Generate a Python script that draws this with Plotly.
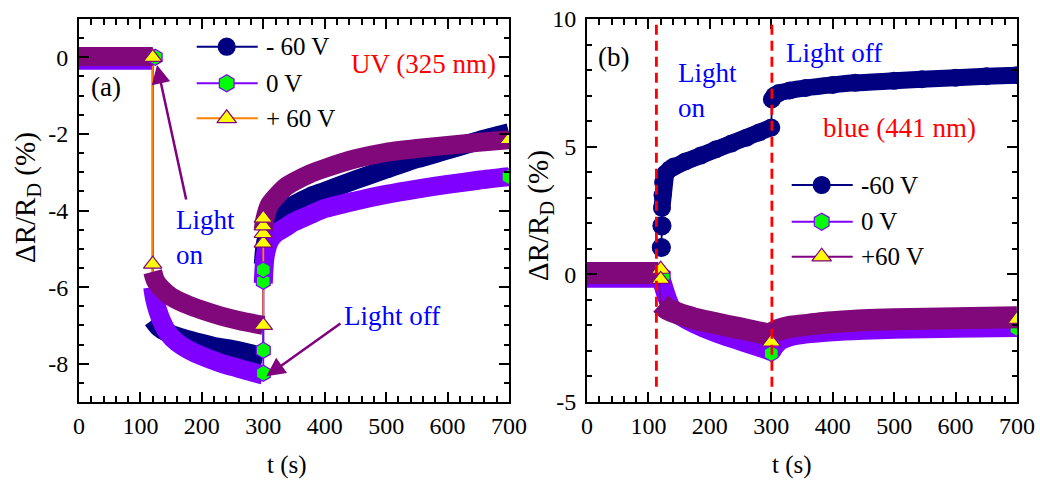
import plotly.graph_objects as go

W, H = 1040, 480
FONT = "Liberation Serif"
NAVY = "#000080"
VIOLET = "#8000FF"
MAROON = "#80087A"
ORANGE = "#FF8000"
PURPLE = "#800080"
GREEN = "#00FF00"
YELLOW = "#FFFF00"

# ---------------- Panel (a): UV (325 nm) ----------------
a_n60_pre_t = [0, 120]
a_n60_pre_v = [0, 0]
a_n60_on_t = [120, 130, 145, 165, 190, 220, 250, 275, 300]
a_n60_on_v = [-6.85, -7.05, -7.2, -7.32, -7.43, -7.55, -7.63, -7.72, -7.82]
a_n60_off_t = [300, 303, 310, 320, 335, 350, 375, 400, 450, 500, 550, 600, 650, 700]
a_n60_off_v = [-5.4, -4.9, -4.5, -4.25, -4.0, -3.85, -3.65, -3.5, -3.2, -2.92, -2.65, -2.42, -2.18, -1.97]

a_0_pre_t = [0, 120]
a_0_pre_v = [-0.08, -0.08]
a_0_on_t = [120, 123, 128, 135, 145, 160, 180, 200, 230, 260, 300]
a_0_on_v = [-6.0, -6.3, -6.6, -6.9, -7.2, -7.45, -7.65, -7.8, -7.98, -8.12, -8.3]
a_0_off_t = [300, 303, 310, 320, 335, 350, 375, 400, 450, 500, 550, 600, 650, 700]
a_0_off_v = [-5.9, -5.2, -4.8, -4.6, -4.45, -4.3, -4.12, -3.95, -3.75, -3.58, -3.44, -3.32, -3.21, -3.12]

a_p60_pre_t = [0, 120]
a_p60_pre_v = [0.02, 0.02]
a_p60_on_t = [120, 125, 135, 150, 175, 200, 230, 260, 300]
a_p60_on_v = [-5.6, -5.85, -6.05, -6.25, -6.45, -6.6, -6.75, -6.87, -7.0]
a_p60_off_t = [300, 303, 310, 320, 335, 350, 375, 400, 450, 500, 550, 600, 650, 700]
a_p60_off_v = [-4.5, -4.2, -3.85, -3.65, -3.4, -3.25, -3.05, -2.9, -2.65, -2.48, -2.38, -2.3, -2.22, -2.15]

a_tri_t = [120, 120, 300, 300, 300, 300, 300, 700]
a_tri_v = [0.0, -5.4, -7.0, -4.85, -4.6, -4.4, -4.2, -2.15]
a_hex_t = [124, 300, 300, 300, 300, 700]
a_hex_v = [0.0, -7.65, -8.25, -5.85, -5.55, -3.12]

a_yticks = [0, -2, -4, -6, -8]
a_yticklabels = ["0", "-2", "-4", "-6", "-8"]

# ---------------- Panel (b): blue (441 nm) ----------------
b_n60_pre_t = [0, 115]
b_n60_pre_v = [0, 0]
b_n60_on_t = [121, 122, 122, 123, 124, 128, 135, 141, 160, 185, 210, 235, 260, 280, 300]
b_n60_on_v = [1.05, 1.9, 2.6, 3.1, 3.6, 3.95, 4.12, 4.22, 4.42, 4.65, 4.9, 5.12, 5.35, 5.55, 5.75]
b_n60_off_t = [301, 305, 312, 330, 356, 400, 437, 500, 545, 600, 650, 700]
b_n60_off_v = [6.85, 7.0, 7.1, 7.2, 7.3, 7.42, 7.5, 7.58, 7.64, 7.7, 7.76, 7.8]

b_0_pre_t = [0, 118]
b_0_pre_v = [-0.15, -0.15]
b_0_on_t = [118, 122, 126, 130, 135, 142, 160, 190, 220, 250, 280, 300]
b_0_on_v = [-0.15, -0.3, -0.6, -0.9, -1.2, -1.45, -1.75, -2.1, -2.38, -2.62, -2.85, -3.02]
b_0_off_t = [300, 305, 315, 330, 350, 400, 450, 500, 600, 700]
b_0_off_v = [-3.05, -2.85, -2.6, -2.45, -2.36, -2.25, -2.19, -2.15, -2.11, -2.08]

b_p60_pre_t = [0, 116]
b_p60_pre_v = [0.05, 0.05]
b_p60_on_t = [120, 130, 150, 175, 200, 230, 260, 300]
b_p60_on_v = [-1.15, -1.35, -1.55, -1.73, -1.87, -2.02, -2.17, -2.38]
b_p60_off_t = [300, 305, 315, 330, 350, 375, 400, 450, 500, 600, 700]
b_p60_off_v = [-2.4, -2.25, -2.15, -2.06, -2.0, -1.93, -1.88, -1.8, -1.76, -1.72, -1.68]

b_tri_t = [120, 120, 300, 700]
b_tri_v = [0.2, -0.2, -2.65, -1.76]
b_hex_t = [124, 300, 700]
b_hex_v = [-0.05, -3.1, -2.12]

b_yticks = [-5, 0, 5, 10]
b_yticklabels = ["-5", "0", "5", "10"]

light_on_t = 113
light_off_t = 301

xticks = [0, 100, 200, 300, 400, 500, 600, 700]
xticklabels = ["0", "100", "200", "300", "400", "500", "600", "700"]

legend_a = ["- 60 V", "0 V", "+ 60 V"]
legend_b = ["-60 V", "0 V", "+60 V"]


def segs(*pairs):
    xs, ys = [], []
    for i, (t, v) in enumerate(pairs):
        if i:
            xs.append(None)
            ys.append(None)
        xs += list(t)
        ys += list(v)
    return xs, ys


def chain(*pairs):
    xs, ys = [], []
    for t, v in pairs:
        xs += list(t)
        ys += list(v)
    return xs, ys


fig = go.Figure()


def band(t, v, color, width, xa, ya, markers=None, msize=0, smooth=True):
    mode = "lines" if markers is None else "lines+markers"
    kw = {}
    if markers is not None:
        kw["marker"] = dict(symbol=markers, size=msize, color=color, line=dict(width=0))
    ln = dict(color=color, width=width)
    if smooth:
        ln.update(shape="spline", smoothing=0.7)
    fig.add_trace(go.Scatter(x=t, y=v, mode=mode, line=ln,
                             xaxis=xa, yaxis=ya, showlegend=False, hoverinfo="skip", **kw))


def thin(t, v, color, xa, ya, width=1.8):
    fig.add_trace(go.Scatter(x=t, y=v, mode="lines", line=dict(color=color, width=width),
                             xaxis=xa, yaxis=ya, showlegend=False, hoverinfo="skip"))


def marks(t, v, symbol, fill, edge, xa, ya, size=16):
    fig.add_trace(go.Scatter(x=t, y=v, mode="markers",
                             marker=dict(symbol=symbol, size=size, color=fill,
                                         line=dict(color=edge, width=1.2)),
                             xaxis=xa, yaxis=ya, showlegend=False, hoverinfo="skip"))


# ---- panel (a) traces ----
BW = 19
thin(*chain((a_n60_pre_t, a_n60_pre_v), (a_n60_on_t, a_n60_on_v), (a_n60_off_t, a_n60_off_v)), NAVY, "x", "y")
band(*segs((a_n60_pre_t, a_n60_pre_v), (a_n60_on_t, a_n60_on_v), (a_n60_off_t, a_n60_off_v)), NAVY, BW, "x", "y")
thin(*chain((a_0_pre_t, a_0_pre_v), (a_0_on_t, a_0_on_v), (a_0_off_t, a_0_off_v)), VIOLET, "x", "y")
band(*segs((a_0_pre_t, a_0_pre_v), (a_0_on_t, a_0_on_v), (a_0_off_t, a_0_off_v)), VIOLET, BW, "x", "y")
thin(*chain((a_p60_pre_t, a_p60_pre_v), (a_p60_on_t, a_p60_on_v), (a_p60_off_t, a_p60_off_v)), ORANGE, "x", "y")
band(*segs((a_p60_pre_t, a_p60_pre_v), (a_p60_on_t, a_p60_on_v), (a_p60_off_t, a_p60_off_v)), MAROON, BW, "x", "y")
marks(a_hex_t, a_hex_v, "hexagon", GREEN, VIOLET, "x", "y")
marks(a_tri_t, a_tri_v, "triangle-up", YELLOW, PURPLE, "x", "y")

# ---- panel (b) traces ----
band(b_n60_pre_t, b_n60_pre_v, NAVY, 17, "x2", "y2")
thin(*chain((b_n60_on_t, b_n60_on_v), (b_n60_off_t, b_n60_off_v)), NAVY, "x2", "y2")
# first few points of the rise are separate circles; the rest form a dense band
marks(b_n60_on_t[:2], b_n60_on_v[:2], "circle", NAVY, NAVY, "x2", "y2", size=18)
band(b_n60_on_t[2:], b_n60_on_v[2:], NAVY, 17, "x2", "y2", markers="circle", msize=18, smooth=False)
band(b_n60_off_t, b_n60_off_v, NAVY, 17, "x2", "y2", markers="circle", msize=18)
thin(*chain((b_0_pre_t, b_0_pre_v), (b_0_on_t, b_0_on_v), (b_0_off_t, b_0_off_v)), VIOLET, "x2", "y2")
band(*segs((b_0_pre_t, b_0_pre_v), (b_0_on_t, b_0_on_v), (b_0_off_t, b_0_off_v)), VIOLET, 19, "x2", "y2")
marks(b_hex_t, b_hex_v, "hexagon", GREEN, VIOLET, "x2", "y2")
thin(*chain((b_p60_pre_t, b_p60_pre_v), (b_p60_on_t, b_p60_on_v), (b_p60_off_t, b_p60_off_v)), PURPLE, "x2", "y2")
band(*segs((b_p60_pre_t, b_p60_pre_v), (b_p60_on_t, b_p60_on_v), (b_p60_off_t, b_p60_off_v)), MAROON, 22, "x2", "y2")
marks(b_tri_t, b_tri_v, "triangle-up", YELLOW, PURPLE, "x2", "y2")

# ---- manual legends on a pixel overlay axis ----
leg_syms = [("circle", NAVY, NAVY), ("hexagon", GREEN, VIOLET), ("triangle-up", YELLOW, PURPLE)]
leg_lines_a = [NAVY, VIOLET, ORANGE]
leg_lines_b = [NAVY, VIOLET, PURPLE]
leg_a_rows = [46.7, 83.3, 118.3]
leg_b_rows = [185.0, 221.7, 256.7]
annotations = []
for rows, x0, lines, labels in [(leg_a_rows, 196.7, leg_lines_a, legend_a),
                                (leg_b_rows, 791.7, leg_lines_b, legend_b)]:
    for row, lc, (sym, fc, ec), lab in zip(rows, lines, leg_syms, labels):
        fig.add_trace(go.Scatter(x=[x0, x0 + 61], y=[row, row], mode="lines",
                                 line=dict(color=lc, width=2), xaxis="x3", yaxis="y3",
                                 showlegend=False, hoverinfo="skip"))
        fig.add_trace(go.Scatter(x=[x0 + 30], y=[row], mode="markers",
                                 marker=dict(symbol=sym, size=17, color=fc, line=dict(color=ec, width=1.2)),
                                 xaxis="x3", yaxis="y3", showlegend=False, hoverinfo="skip"))
        annotations.append(dict(text=lab, x=(x0 + 67) / W, y=1 - row / H, xref="paper", yref="paper",
                                xanchor="left", yanchor="middle", showarrow=False,
                                font=dict(family=FONT, size=25, color="black")))


def px_text(text, x, y, color, size=27, xanchor="left", angle=0):
    annotations.append(dict(text=text, x=x / W, y=1 - y / H, xref="paper", yref="paper",
                            xanchor=xanchor, yanchor="middle", showarrow=False, align="left",
                            textangle=angle, font=dict(family=FONT, size=size, color=color)))


px_text("(a)", 89, 87, "black")
px_text("UV (325 nm)", 349, 63.5, "#FF0000")
px_text("Light<br>on", 174, 237, "#0000FF")
px_text("Light off", 342, 315.5, "#0000FF")
px_text("(b)", 596, 57.5, "black")
px_text("Light<br>on", 676, 90, "#0000FF")
px_text("Light off", 784, 52.5, "#0000FF")
px_text("blue (441 nm)", 821, 127.5, "#FF0000")
px_text("t (s)", 287, 465, "black", size=25, xanchor="center")
px_text("t (s)", 792, 465, "black", size=25, xanchor="center")
px_text("ΔR/R<sub>D</sub> (%)", 27, 198, "black", size=29, xanchor="center", angle=-90)
px_text("ΔR/R<sub>D</sub> (%)", 540, 216, "black", size=29, xanchor="center", angle=-90)

# arrows in panel (a)
for (x, y, ax, ay) in [(127, -0.2, 175, -3.75), (305, -8.33, 428, -6.92)]:
    annotations.append(dict(text="", x=x, y=y, ax=ax, ay=ay, xref="x", yref="y", axref="x", ayref="y",
                            showarrow=True, arrowhead=2, arrowsize=1.5, arrowwidth=2.5,
                            arrowcolor=PURPLE, standoff=0, startstandoff=0))

shapes = []
for t in [light_on_t, light_off_t]:
    shapes.append(dict(type="line", xref="x2", yref="y2", x0=t, x1=t, y0=-4.4, y1=10,
                       line=dict(color="#FF0000", width=2.8, dash="10px,6px"), layer="above"))

tickfont = dict(family=FONT, size=24, color="black")
common_x = dict(range=[0, 700], tickvals=xticks, ticktext=xticklabels, ticks="inside", ticklen=10,
                tickwidth=1.5, tickcolor="black", showline=True, linewidth=2, linecolor="black",
                mirror="ticks", showgrid=False, zeroline=False, tickfont=tickfont, automargin=False,
                ticklabelstandoff=1,
                minor=dict(dtick=20, tick0=0, ticks="inside", ticklen=6, tickwidth=1.5,
                           tickcolor="black", showgrid=False))
common_y = dict(ticks="inside", ticklen=10, tickwidth=1.5, tickcolor="black", showline=True,
                linewidth=2, linecolor="black", mirror="ticks", showgrid=False, zeroline=False,
                tickfont=tickfont, automargin=False, ticklabelstandoff=4)

ydom = [1 - 402 / H, 1 - 19 / H]
fig.update_layout(
    width=W, height=H, margin=dict(l=0, r=0, t=0, b=0),
    paper_bgcolor="white", plot_bgcolor="rgba(0,0,0,0)", showlegend=False,
    xaxis=dict(domain=[79 / W, 509 / W], anchor="y", **common_x),
    yaxis=dict(domain=ydom, anchor="x", range=[-9, 1], tickvals=a_yticks, ticktext=a_yticklabels,
               minor=dict(dtick=0.5, tick0=0, ticks="inside", ticklen=5, tickwidth=1.5,
                          tickcolor="black", showgrid=False), **common_y),
    xaxis2=dict(domain=[587 / W, 1017 / W], anchor="y2", **common_x),
    yaxis2=dict(domain=ydom, anchor="x2", range=[-5, 10], tickvals=b_yticks, ticktext=b_yticklabels,
                minor=dict(dtick=1, tick0=0, ticks="inside", ticklen=5, tickwidth=1.5,
                           tickcolor="black", showgrid=False), **common_y),
    xaxis3=dict(domain=[0, 1], anchor="y3", range=[0, W], visible=False, fixedrange=True),
    yaxis3=dict(domain=[0, 1], anchor="x3", range=[H, 0], visible=False, fixedrange=True),
    annotations=annotations, shapes=shapes,
)

fig.write_html("out.html")
